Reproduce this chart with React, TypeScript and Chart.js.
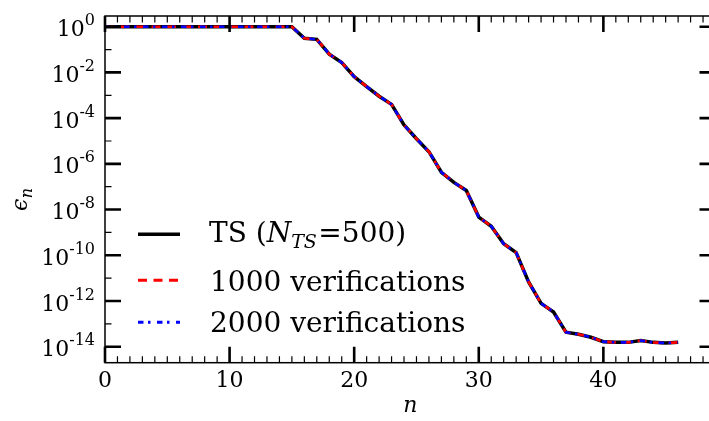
import React, { useEffect, useRef } from 'react';
import { Chart, registerables } from 'chart.js';

Chart.register(...registerables);

// ---- data ----
const nValues = [
  0, 1, 2, 3, 4, 5, 6, 7, 8, 9, 10, 11, 12, 13, 14, 15, 16, 17, 18, 19, 20, 21, 22, 23,
  24, 25, 26, 27, 28, 29, 30, 31, 32, 33, 34, 35, 36, 37, 38, 39, 40, 41, 42, 43, 44, 45, 46,
];
const tsErrors = [
  1, 1, 1, 1, 1, 1, 1, 1, 1, 1, 1, 1, 1, 1, 1, 1,
  3.1e-1, 2.8e-1, 6.3e-2, 2.7e-2, 6.5e-3, 2.4e-3, 9.1e-4, 4.0e-4,
  5.0e-5, 1.26e-5, 3.4e-6, 4.3e-7, 1.55e-7, 6.8e-8, 4.7e-9, 1.86e-9,
  3.2e-10, 1.3e-10, 6.8e-12, 7.9e-13, 3.3e-13, 4.3e-14, 3.5e-14, 2.6e-14,
  1.66e-14, 1.55e-14, 1.55e-14, 1.86e-14, 1.55e-14, 1.45e-14, 1.55e-14,
];
const ver1000Errors = [
  1, 1, 1, 1, 1, 1, 1, 1, 1, 1, 1, 1, 1, 1, 1, 1,
  3.1e-1, 2.8e-1, 6.3e-2, 2.7e-2, 6.5e-3, 2.4e-3, 9.1e-4, 4.0e-4,
  5.0e-5, 1.26e-5, 3.4e-6, 4.3e-7, 1.55e-7, 6.8e-8, 4.7e-9, 1.86e-9,
  3.2e-10, 1.3e-10, 6.8e-12, 7.9e-13, 3.3e-13, 4.3e-14, 3.5e-14, 2.6e-14,
  1.66e-14, 1.55e-14, 1.55e-14, 1.86e-14, 1.55e-14, 1.45e-14, 1.55e-14,
];
const ver2000Errors = [
  1, 1, 1, 1, 1, 1, 1, 1, 1, 1, 1, 1, 1, 1, 1, 1,
  3.1e-1, 2.8e-1, 6.3e-2, 2.7e-2, 6.5e-3, 2.4e-3, 9.1e-4, 4.0e-4,
  5.0e-5, 1.26e-5, 3.4e-6, 4.3e-7, 1.55e-7, 6.8e-8, 4.7e-9, 1.86e-9,
  3.2e-10, 1.3e-10, 6.8e-12, 7.9e-13, 3.3e-13, 4.3e-14, 3.5e-14, 2.6e-14,
  1.66e-14, 1.55e-14, 1.55e-14, 1.86e-14, 1.55e-14, 1.45e-14, 1.55e-14,
];

const xMajorTicks = [0, 10, 20, 30, 40];
const xTickLabels = ['0', '10', '20', '30', '40'];
const yMajorExponents = [0, -2, -4, -6, -8, -10, -12, -14];
const yTickLabels = ['0', '-2', '-4', '-6', '-8', '-10', '-12', '-14'];
const yMinorExponents = [-1, -3, -5, -7, -9, -11, -13];
const legendTexts = ['1000 verifications', '2000 verifications'];

const X_MIN = 0;
const X_MAX = 49;
const Y_MIN = 2.0e-15;
const Y_MAX = 2.94;

const SERIF = '"DejaVu Serif", serif';

const axesPlugin = {
  id: 'mplAxes',
  afterDraw(chart: any) {
    const ctx: CanvasRenderingContext2D = chart.ctx;
    const area = chart.chartArea;
    const xs = chart.scales.x;
    const ys = chart.scales.y;
    ctx.save();

    // spines
    ctx.strokeStyle = '#000';
    ctx.lineWidth = 1.5;
    ctx.strokeRect(area.left, area.top, area.right - area.left, area.bottom - area.top);

    const MAJ = 16;
    const MIN = 6.5;

    // x ticks (bottom & top, inward)
    for (let v = Math.ceil(X_MIN); v <= X_MAX; v++) {
      const px = xs.getPixelForValue(v);
      const major = xMajorTicks.includes(v) || v % 10 === 0;
      const len = major ? MAJ : MIN;
      ctx.lineWidth = major ? 2.6 : 1.2;
      ctx.beginPath();
      ctx.moveTo(px, area.bottom);
      ctx.lineTo(px, area.bottom - len);
      ctx.moveTo(px, area.top);
      ctx.lineTo(px, area.top + len);
      ctx.stroke();
    }

    // y ticks (left & right, inward)
    const yTick = (e: number, major: boolean) => {
      const py = ys.getPixelForValue(Math.pow(10, e));
      const len = major ? MAJ : MIN;
      ctx.lineWidth = major ? 2.6 : 1.2;
      ctx.beginPath();
      ctx.moveTo(area.left, py);
      ctx.lineTo(area.left + len, py);
      ctx.moveTo(area.right, py);
      ctx.lineTo(area.right - len, py);
      ctx.stroke();
    };
    yMajorExponents.forEach((e) => yTick(e, true));
    yMinorExponents.forEach((e) => yTick(e, false));

    ctx.fillStyle = '#000';
    // x tick labels
    ctx.font = '22px ' + SERIF;
    ctx.textAlign = 'center';
    ctx.textBaseline = 'alphabetic';
    xMajorTicks.forEach((v, i) => {
      ctx.fillText(xTickLabels[i], xs.getPixelForValue(v), area.bottom + 24.5);
    });

    // y tick labels: 10^e
    ctx.textAlign = 'left';
    yMajorExponents.forEach((e, i) => {
      const py = ys.getPixelForValue(Math.pow(10, e));
      ctx.font = '22px ' + SERIF;
      const w10 = ctx.measureText('10').width;
      ctx.font = '16px ' + SERIF;
      const we = ctx.measureText(yTickLabels[i]).width;
      const x0 = area.left - 10 - w10 - we;
      ctx.font = '22px ' + SERIF;
      ctx.fillText('10', x0, py + 9.5);
      ctx.font = '16px ' + SERIF;
      ctx.fillText(yTickLabels[i], x0 + w10, py - 1.5);
    });

    // x axis label
    ctx.font = 'italic 22px ' + SERIF;
    ctx.textAlign = 'center';
    ctx.fillText('n', (area.left + area.right) / 2, 412);

    // y axis label (rotated)
    ctx.save();
    ctx.translate(27, 211);
    ctx.rotate(-Math.PI / 2);
    ctx.textAlign = 'left';
    ctx.font = 'italic 22px ' + SERIF;
    ctx.fillText('\u03F5', 0, 0);
    const we2 = ctx.measureText('\u03F5').width;
    ctx.font = 'italic 16px ' + SERIF;
    ctx.fillText('n', we2 + 0.5, 5);
    ctx.restore();

    // legend
    const lx0 = 138;
    const lx1 = 180;
    const tx = 209;
    const drawSample = (y: number, color: string, width: number, dash: number[]) => {
      ctx.strokeStyle = color;
      ctx.lineWidth = width;
      ctx.setLineDash(dash);
      ctx.beginPath();
      ctx.moveTo(lx0, y);
      ctx.lineTo(lx1, y);
      ctx.stroke();
      ctx.setLineDash([]);
    };
    drawSample(234.3, '#000', 3.5, []);
    drawSample(280.3, '#ff0000', 3, [9, 6.5]);
    drawSample(322.3, '#0000ff', 3, [5.5, 4.5, 2.5, 6.5]);

    ctx.textAlign = 'left';
    ctx.fillStyle = '#000';
    // row 1: TS (N_TS=500)
    let cx = tx;
    const base1 = 241.7;
    ctx.font = '28px ' + SERIF;
    ctx.fillText('TS (', cx, base1);
    cx += ctx.measureText('TS (').width;
    ctx.font = 'italic 28px ' + SERIF;
    ctx.fillText('N', cx, base1);
    cx += ctx.measureText('N').width;
    ctx.font = 'italic 19px ' + SERIF;
    ctx.fillText('TS', cx, base1 + 6.5);
    cx += ctx.measureText('TS').width + 1.5;
    ctx.font = '28px ' + SERIF;
    ctx.fillText('=500)', cx, base1);

    ctx.font = '28px ' + SERIF;
    ctx.fillText(legendTexts[0], tx + 1, 290.8);
    ctx.fillText(legendTexts[1], tx + 1, 332.2);

    ctx.restore();
  },
};

export default function App() {
  const canvasRef = useRef<HTMLCanvasElement | null>(null);

  useEffect(() => {
    const canvas = canvasRef.current;
    if (!canvas) return;
    const toPoints = (ys: number[]) => nValues.map((n, i) => ({ x: n, y: ys[i] }));
    const chart = new Chart(canvas, {
      type: 'line',
      data: {
        datasets: [
          {
            label: 'TS',
            data: toPoints(tsErrors),
            borderColor: '#000000',
            borderWidth: 3.5,
            pointRadius: 0,
            tension: 0,
            fill: false,
            order: 3,
          },
          {
            label: '1000 verifications',
            data: toPoints(ver1000Errors),
            borderColor: '#ff0000',
            borderWidth: 2.6,
            borderDash: [9, 6.5],
            pointRadius: 0,
            tension: 0,
            fill: false,
            order: 2,
          },
          {
            label: '2000 verifications',
            data: toPoints(ver2000Errors),
            borderColor: '#0000ff',
            borderWidth: 2.6,
            borderDash: [5.5, 4.5, 2.5, 6.5],
            pointRadius: 0,
            tension: 0,
            fill: false,
            order: 1,
          },
        ],
      },
      options: {
        animation: false,
        responsive: false,
        devicePixelRatio: 1,
        layout: { padding: { left: 105, top: 16, right: 740 - 715.5, bottom: 421 - 362.7 } },
        plugins: { legend: { display: false }, tooltip: { enabled: false } },
        scales: {
          x: { type: 'linear', min: X_MIN, max: X_MAX, display: false },
          y: { type: 'logarithmic', min: Y_MIN, max: Y_MAX, display: false },
        },
      },
      plugins: [axesPlugin],
    });
    return () => chart.destroy();
  }, []);

  return (
    <div
      style={{
        position: 'absolute',
        left: 0,
        top: 0,
        width: 709,
        height: 421,
        overflow: 'hidden',
        background: '#fff',
      }}
    >
      <canvas ref={canvasRef} width={740} height={421} style={{ width: 740, height: 421, display: 'block' }} />
    </div>
  );
}
